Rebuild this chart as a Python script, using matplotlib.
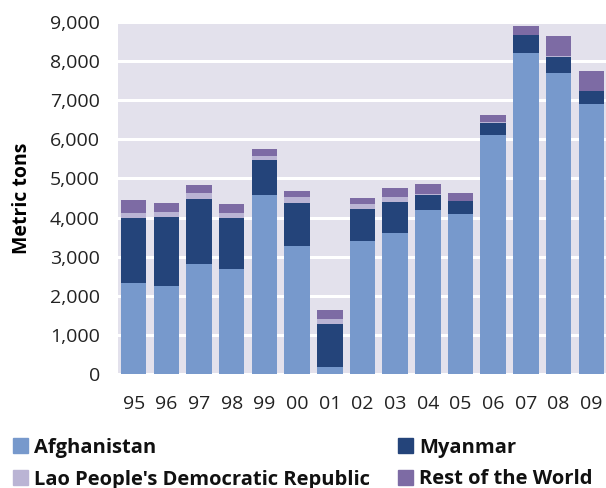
import matplotlib
matplotlib.use("Agg")
import matplotlib.pyplot as plt
import matplotlib.patches as mpatches
import matplotlib.ticker as mticker
import numpy as np

plt.rcParams["font.family"] = ["Open Sans", "DejaVu Sans"]

# 데이터 (metric tons)
years = ["95", "96", "97", "98", "99", "00", "01", "02", "03", "04", "05", "06", "07", "08", "09"]
afghanistan = [2335, 2248, 2804, 2693, 4565, 3276, 185, 3400, 3600, 4200, 4100, 6100, 8200, 7700, 6900]
myanmar     = [1664, 1760, 1676, 1303, 895, 1087, 1097, 828, 810, 370, 312, 315, 460, 410, 330]
lao         = [128, 140, 147, 124, 124, 167, 134, 112, 120, 43, 14, 20, 9, 10, 11]
rest        = [325, 230, 196, 226, 180, 161, 214, 170, 235, 237, 194, 175, 221, 521, 513]

series_names = ["Afghanistan", "Myanmar", "Lao People's Democratic Republic", "Rest of the World"]
colors = ["#7799cc", "#24447a", "#bab4d4", "#7d6ba4"]
y_ticks = [0, 1000, 2000, 3000, 4000, 5000, 6000, 7000, 8000, 9000]

W, H = 606, 488
fig = plt.figure(figsize=(W / 100, H / 100), dpi=100)
ax = fig.add_axes([118 / W, 1 - 374 / H, 1 - 118 / W, (374 - 22) / H])
ax.set_facecolor("#e3e1ec")

x = np.arange(len(years))
bottom = np.zeros(len(years))
for vals, col in zip([afghanistan, myanmar, lao, rest], colors):
    ax.bar(x, vals, bottom=bottom, color=col, width=0.78, zorder=3)
    bottom += np.array(vals)

ax.set_xlim(-0.48, len(years) - 0.55)
ax.set_ylim(0, 9000)
ax.set_yticks(y_ticks)
ax.yaxis.set_major_formatter(mticker.FuncFormatter(lambda v, _: f"{int(v):,}"))
ax.set_xticks(x)
ax.set_xticklabels(years)
ax.tick_params(length=0, labelsize=14, colors="#222222")
ax.tick_params(axis="x", pad=15)
ax.tick_params(axis="y", pad=13)
ax.grid(axis="y", color="white", linewidth=2.2, zorder=1)
ax.set_axisbelow(True)
for s in ax.spines.values():
    s.set_visible(False)
ax.set_ylabel("Metric tons", fontsize=14, fontweight="bold", labelpad=13)

# ── 범례 (2열, 수동 배치) ─────────────────────────────
legend_pos = [(13, 445), (398, 445), (13, 477), (398, 477)]
for (lx, ly), name, col in zip(legend_pos, series_names, colors):
    fig.patches.append(mpatches.Rectangle((lx / W, 1 - (ly + 7.5) / H), 15 / W, 15 / H,
                                          transform=fig.transFigure, color=col))
    fig.text((lx + 21) / W, 1 - ly / H, name, fontsize=14.5, fontweight="bold",
             va="center_baseline", ha="left", color="#111111")

fig.savefig("out.png", dpi=100)
